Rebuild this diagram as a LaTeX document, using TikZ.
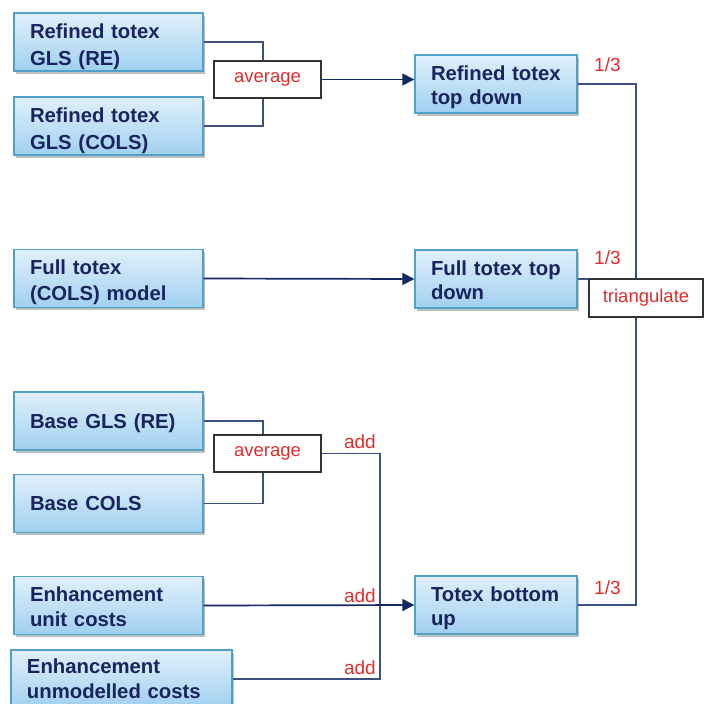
\documentclass[tikz,border=0pt]{standalone}
\usepackage{fontspec}
\setmainfont{Liberation Sans}
\usetikzlibrary{arrows.meta,shadows}
\definecolor{boxtop}{RGB}{224,240,251}
\definecolor{boxbot}{RGB}{160,208,240}
\definecolor{boxline}{RGB}{80,160,200}
\definecolor{boxtext}{RGB}{25,35,95}
\definecolor{wire}{RGB}{60,80,130}
\definecolor{tip}{RGB}{20,40,100}
\definecolor{lbl}{RGB}{225,45,45}

\begin{document}
\begin{tikzpicture}[x=1pt,y=-1pt,
  model/.style={draw=boxline,line width=1.4pt,top color=boxtop,bottom color=boxbot,
    drop shadow={shadow xshift=1.5pt,shadow yshift=-2.5pt,fill=black,opacity=.25},
    minimum height=58pt,inner xsep=16pt,inner ysep=0pt,align=left,text=boxtext,
    text height=25pt,text depth=33pt,font=\fontsize{20.3}{#1}\selectfont\bfseries},
  model/.default=26pt,
  oneline/.style={text height=36pt,text depth=22pt},
  combine/.style={draw=black!80,line width=1.3pt,fill=white,minimum height=37pt,
    inner sep=0pt,text=lbl,font=\fontsize{18.5}{22}\selectfont},
  weight/.style={text=lbl,inner sep=0pt,font=\fontsize{19}{22}\selectfont},
  link/.style={draw=wire,line width=1.4pt},
  feed/.style={link,line width=1.7pt,-{Triangle[length=12pt,width=12pt]},tip}]
\useasboundingbox (0,0) rectangle (704,704);

\node[model=27pt,text width=157pt] (rgre) at (108.5,42) {Refined totex\\GLS (RE)};
\node[model=27pt,text width=157pt] (rgcols) at (108.5,126) {Refined totex\\GLS (COLS)};
\node[model,text width=157pt] (ftcols) at (108.5,278.5) {Full totex\\(COLS) model};
\node[model,oneline,text width=157pt] (bgre) at (108.5,421) {Base GLS (RE)};
\node[model,oneline,text width=157pt] (bcols) at (108.5,503.5) {Base COLS};
\node[model=25pt,text width=157pt] (enhunit) at (108.5,605.5) {Enhancement\\unit costs};
\node[model=25pt,text width=189pt,text height=23pt,text depth=35pt] (enhunmod) at (121.5,679) {Enhancement\\unmodelled costs};

\node[model=24pt,text width=130pt] (rtd) at (496,84) {Refined totex\\top down};
\node[model=24pt,text width=130pt] (ftd) at (496,279) {Full totex top\\down};
\node[model=24pt,text width=130pt] (tbu) at (496,605) {Totex bottom\\up};

\coordinate (mergex) at (636,0);
\coordinate (addx) at (380,0);

\draw[link] (rgre.east) -| (263,61);
\draw[link] (rgcols.east) -| (263,98);
\node[combine,minimum width=107pt] (avgrefined) at (267.5,79.5) {average};
\draw[feed] (avgrefined.east) -- (avgrefined.east -| rtd.west);

\draw[feed] (ftcols.east) -- (ftd.west);

\draw[link] (bgre.east) -| (263,435);
\draw[link] (bcols.east) -| (263,472);
\node[combine,minimum width=107pt] (avgbase) at (267.5,453.5) {average};
\draw[link] (avgbase.east) -| (addx |- enhunmod.east) -- (enhunmod.east);
\draw[feed] (enhunit.east) -- (tbu.west);

\draw[link] (rtd.east) -| (mergex |- tbu.east) -- (tbu.east);
\draw[link] (ftd.east) -- (ftd.east -| mergex);
\node[combine,minimum width=114pt,minimum height=38pt] (tri) at (646,298) {triangulate};

\node[weight,anchor=west] (wrtd) at (594,65) {1/3};
\node[weight,anchor=west] (wftd) at (594,258) {1/3};
\node[weight,anchor=west] (wtbu) at (594,588) {1/3};

\node[weight,anchor=east] (addbase) at (376,442) {add};
\node[weight,anchor=east] (addunit) at (376,596) {add};
\node[weight,anchor=east] (addunmod) at (376,668) {add};
\end{tikzpicture}
\end{document}
